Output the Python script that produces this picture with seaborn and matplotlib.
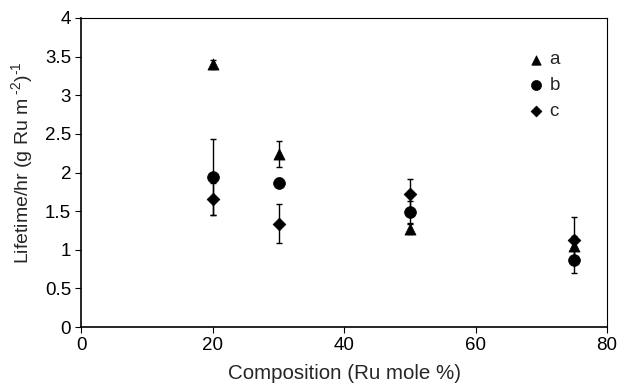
import matplotlib
matplotlib.use("Agg")
import matplotlib.pyplot as plt
import seaborn as sns
import pandas as pd

composition = [20, 30, 50, 75]
series_names = ["a", "b", "c"]
a_vals = [3.40, 2.24, 1.27, 1.05]
a_err = [0.06, 0.17, 0.07, 0.13]
b_vals = [1.94, 1.87, 1.49, 0.87]
b_err = [0.49, 0.06, 0.14, 0.17]
c_vals = [1.66, 1.34, 1.72, 1.13]
c_err = [0.21, 0.25, 0.20, 0.30]

sns.set_theme(style="white")
plt.rcParams['font.family'] = ['Liberation Sans', 'DejaVu Sans']
plt.rcParams['mathtext.fontset'] = 'custom'
plt.rcParams['mathtext.rm'] = 'Liberation Sans'
plt.rcParams['mathtext.it'] = 'Liberation Sans'

rows = []
for name, vals, errs in zip(series_names, [a_vals, b_vals, c_vals], [a_err, b_err, c_err]):
    for x, v, e in zip(composition, vals, errs):
        rows.append({"Composition": x, "Lifetime": v, "err": e, "series": name})
df = pd.DataFrame(rows)

fig = plt.figure(figsize=(6.22, 3.89), dpi=100)
ax = fig.add_axes([0.131, 0.159, 0.845, 0.795])

markers = {"a": "^", "b": "o", "c": "D"}
sizes = {"a": 8, "b": 8.5, "c": 6.5}
for name in series_names:
    sub = df[df.series == name]
    ax.errorbar(sub.Composition, sub.Lifetime, yerr=sub.err, fmt="none",
                ecolor="black", elinewidth=1, capsize=2.5, capthick=1, zorder=2)
for name in series_names:
    sub = df[df.series == name]
    sns.scatterplot(data=sub, x="Composition", y="Lifetime", marker=markers[name],
                    s=sizes[name] ** 2, color="black", edgecolor="black",
                    linewidth=0.5, label=name, ax=ax, zorder=3)

fs = 13.5
ax.set_xlim(0, 80)
ax.set_ylim(0, 4)
ax.set_xticks([0, 20, 40, 60, 80])
ax.set_yticks([0, 0.5, 1, 1.5, 2, 2.5, 3, 3.5, 4])
ax.set_yticklabels(["0", "0.5", "1", "1.5", "2", "2.5", "3", "3.5", "4"])
ax.set_xlabel("Composition (Ru mole %)", fontsize=14.8)
ax.set_ylabel(r"Lifetime/hr (g Ru m$^{\text{ -2}}$)$^{\text{-1}}$", fontsize=14)
ax.xaxis.set_label_coords(0.50, -0.12)
ax.yaxis.set_label_coords(-0.088, 0.53)
ax.tick_params(axis="both", labelsize=fs, direction="out", length=4, width=0.8,
               bottom=True, left=True, colors="black")
ax.tick_params(axis="x", pad=3)
for s in ["left", "bottom"]:
    ax.spines[s].set_linewidth(1.2)
    ax.spines[s].set_color("black")
for s in ["top", "right"]:
    ax.spines[s].set_linewidth(0.8)
    ax.spines[s].set_color("black")

leg = ax.legend(loc="upper left", bbox_to_anchor=(0.83, 0.916), frameon=False,
                fontsize=fs, handletextpad=0.1, labelspacing=0.45,
                markerscale=0.85, handlelength=1.2, borderaxespad=0)
fig.savefig("out.png", dpi=100)
